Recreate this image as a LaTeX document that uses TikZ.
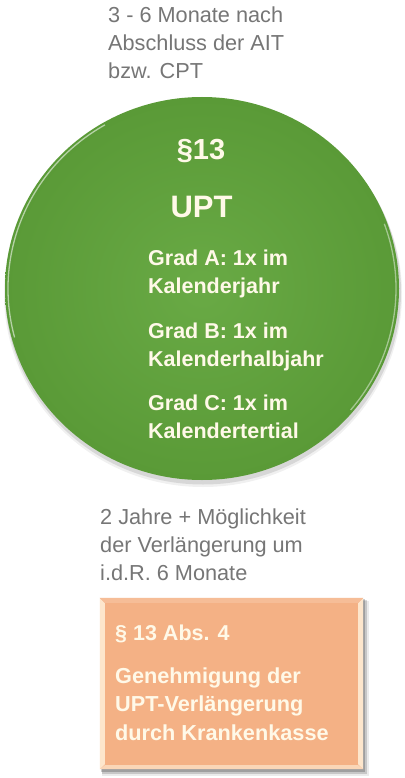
\documentclass[tikz,border=0pt]{standalone}
\usepackage{fontspec}
\setmainfont{Liberation Sans}
\usetikzlibrary{shapes.geometric}
\definecolor{graytext}{HTML}{767676}
\definecolor{greenlight}{HTML}{69AA45}
\definecolor{greendark}{HTML}{5A9A37}
\definecolor{peach}{HTML}{F4B185}
\definecolor{cream}{HTML}{FFF9E8}
\definecolor{bevel}{HTML}{FDE6CC}
\begin{document}
\begin{tikzpicture}[x=1pt,y=-1pt,
  graylbl/.style={anchor=base west, inner sep=0pt, text=graytext,
    font=\fontsize{21.7}{28}\selectfont},
  whitelbl/.style={anchor=base west, inner sep=0pt, text=cream,
    font=\bfseries\fontsize{21.5}{28}\selectfont},
  titlelbl/.style={anchor=base, inner sep=0pt, text=cream, font=\bfseries},
  ballstyle/.style={ellipse, minimum width=394pt, minimum height=383pt, inner sep=0pt,
    shading=radial, inner color=greenlight, outer color=greendark},
  boxstyle/.style={rectangle, minimum width=263pt, minimum height=171pt, inner sep=0pt,
    fill=peach}
]
\useasboundingbox (0,0) rectangle (404,778);
\fill[white] (0,0) rectangle (404,778);

% top gray text
\node[graylbl] (toptext) at (108,23) {\begin{tabular}[t]{@{}l@{}}3 - 6 Monate nach\\Abschluss der AIT\\bzw. CPT\end{tabular}};

% circle shadow
\fill[black, opacity=0.06] (203,294) ellipse [x radius=199, y radius=193];
\fill[black, opacity=0.10] (203,292) ellipse [x radius=198, y radius=192.5];
% circle
\node[ballstyle] (upt) at (202,288.5) {};
% rim highlights
\draw[white, opacity=0.55, line width=1.3pt]
  (202,288.5) ++(165:194 and 189) arc[start angle=165, end angle=240, x radius=194, y radius=189];
\draw[white, opacity=0.45, line width=1.3pt]
  (202,288.5) ++(-20:194 and 189) arc[start angle=-20, end angle=40, x radius=194, y radius=189];

% circle text
\node[titlelbl, font=\bfseries\fontsize{29}{34}\selectfont] (para) at (201,160) {§13};
\node[titlelbl, font=\bfseries\fontsize{31}{36}\selectfont] (upttitle) at (201.5,217) {UPT};
\node[whitelbl] (grada) at (148,265) {\begin{tabular}[t]{@{}l@{}}Grad A: 1x im\\Kalenderjahr\end{tabular}};
\node[whitelbl] (gradb) at (148,338) {\begin{tabular}[t]{@{}l@{}}Grad B: 1x im\\Kalenderhalbjahr\end{tabular}};
\node[whitelbl] (gradc) at (148,410) {\begin{tabular}[t]{@{}l@{}}Grad C: 1x im\\Kalendertertial\end{tabular}};

% lower gray text
\node[graylbl] (midtext) at (100,524) {\begin{tabular}[t]{@{}l@{}}2 Jahre + Möglichkeit\\der Verlängerung um\\i.d.R. 6 Monate\end{tabular}};

% box shadow
\fill[black, opacity=0.08] (102,601) rectangle (369,776);
\fill[black, opacity=0.15] (102,600) rectangle (367,774);
\fill[black, opacity=0.20] (101,599) rectangle (365,772);
% box
\node[boxstyle] (box) at (231.5,683.5) {};
% bevels
\fill[bevel] (box.north west) -- ++(5,5) -- ([shift={(5,-5)}]box.south west) -- (box.south west) -- cycle;
\fill[bevel] (box.north east) -- ++(-5,5) -- ([shift={(-5,-5)}]box.south east) -- (box.south east) -- cycle;
\fill[peach!85!white] (box.north west) -- (box.north east) -- ++(-5,5) -- ([shift={(5,5)}]box.north west) -- cycle;
\fill[bevel!70!peach] (box.south west) -- (box.south east) -- ++(-5,-4) -- ([shift={(5,-4)}]box.south west) -- cycle;

% box text
\node[whitelbl] (abs) at (115,640) {§ 13 Abs. 4};
\node[whitelbl, font=\bfseries\fontsize{21.7}{28.5}\selectfont] (gen) at (115,683) {\begin{tabular}[t]{@{}l@{}}Genehmigung der\\UPT-Verlängerung\\durch Krankenkasse\end{tabular}};
\end{tikzpicture}
\end{document}
